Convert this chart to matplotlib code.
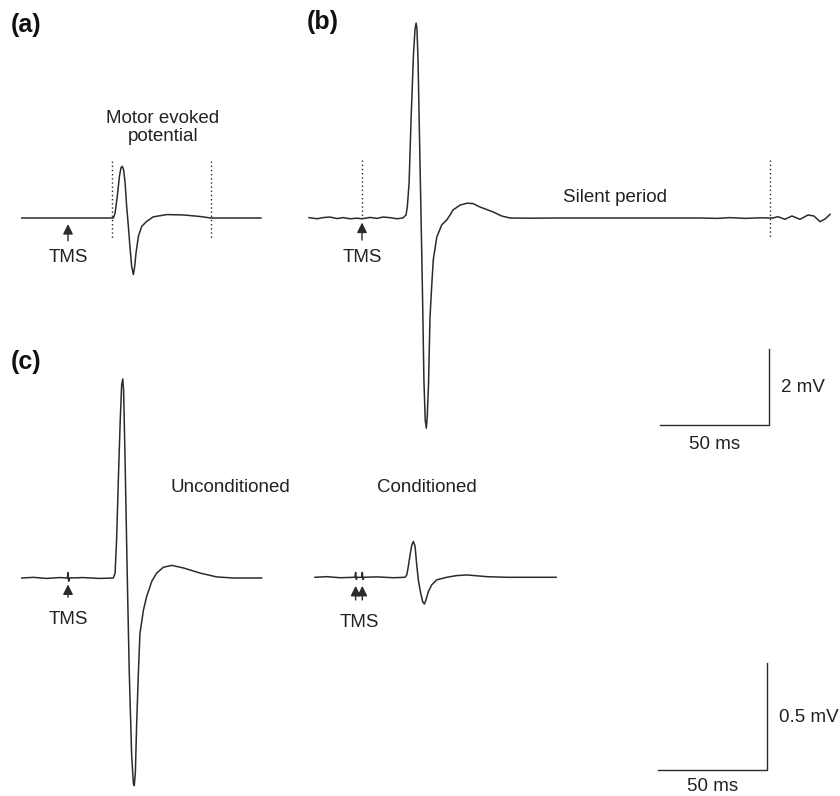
import matplotlib
matplotlib.use("Agg")
import matplotlib.pyplot as plt

plt.rcParams['font.family'] = ['Liberation Sans', 'DejaVu Sans']

W, H = 840, 796
PX_PER_MS = 2.18          # 50 ms scale bar = 109 px
PX_PER_MV_AB = 38.0       # 2 mV scale bar = 76 px
PX_PER_MV_C = 214.0       # 0.5 mV scale bar = 107 px

# ---- traces (time in ms relative to TMS, amplitude in mV) ----
a_t = [-21.2, 20.8, 21.6, 22.6, 23.6, 24.3, 24.9, 25.5, 26.2, 26.9, 27.7, 28.4,
       29.2, 30.0, 30.6, 31.2, 32.3, 33.8, 36.1, 39.1, 45.3, 52.9, 60.6, 65.4, 88.5]
a_v = [0, 0, 0.13, 0.57, 1.10, 1.32, 1.36, 1.27, 0.92, 0.31, -0.22, -0.75,
       -1.27, -1.49, -1.27, -0.92, -0.48, -0.22, -0.09, 0.03, 0.09, 0.08, 0.04, 0, 0]

b_t = [-24.3, -20.6, -17.9, -14.7, -11.5, -8.7, -5.5, -2.3, 0, 3.7, 6.9, 9.6, 12.8,
       16.1, 18.7, 20.2, 20.8, 21.6, 22.5, 23.6, 24.3, 24.8, 25.2, 25.7, 26.4, 27.1,
       27.8, 28.4, 29.0, 29.5, 29.9, 30.5, 31.2, 32.0, 32.7, 34.3, 36.6, 38.9, 40.4,
       41.7, 45.0, 48.2, 50.9, 54.1, 60.1, 64.2, 67.9, 77.1, 90.8, 109.2, 132.1, 155.0,
       162.8, 168.8, 175.7, 182.6, 187.2, 188.5, 190.8, 194.0, 197.2, 200.9, 204.6,
       207.3, 210.1, 212.4, 214.7]
b_v = [0.01, -0.02, 0.01, 0.025, -0.015, 0.01, -0.02, -0.005, -0.02, 0.015, -0.01, 0.025, 0.01,
       -0.02, 0.0, 0.08, 0.30, 0.92, 2.58, 4.29, 4.95, 5.13, 5.00, 4.16, 2.05, 0.0,
       -2.16, -4.26, -5.32, -5.53, -5.26, -4.39, -2.61, -1.76, -1.10, -0.50, -0.18, -0.05, 0.08,
       0.21, 0.34, 0.39, 0.38, 0.29, 0.16, 0.05, 0.0, -0.005, 0, 0, 0, 0,
       -0.01, 0.01, -0.01, 0.005, 0, 0, 0.034, -0.034, 0.053, -0.034, 0.079,
       0.053, -0.097, -0.026, 0.097]

unc_t = [-21.2, -15.8, -9.9, -3.8, -0.3, 0, 0.3, 0.8, 6.9, 14.5, 20.8, 21.6, 22.3, 23.1,
         23.9, 24.6, 25.1, 25.5, 26.3, 27.2, 28.1, 29.2, 30.0, 30.4, 30.9, 31.5, 32.3,
         33.0, 34.6, 36.1, 38.4, 40.7, 43.7, 47.6, 52.9, 60.6, 68.2, 75.8, 88.8]
unc_v = [0, 0.003, -0.002, 0.002, 0, 0.025, -0.015, 0, 0.002, -0.002, 0, 0.023, 0.18, 0.46,
         0.72, 0.90, 0.93, 0.88, 0.49, 0, -0.44, -0.83, -0.96, -0.97, -0.91, -0.68, -0.44,
         -0.26, -0.15, -0.086, -0.016, 0.023, 0.05, 0.059, 0.047, 0.023, 0.005, 0, 0]

con_t = [-21.7, -16.3, -10.2, -4.1, -3.4, -3.06, -2.75, -2.3, -0.3, 0, 0.3, 0.76, 6.6,
         14.2, 19.6, 20.4, 21.1, 21.9, 22.7, 23.4, 24.2, 24.9, 25.7, 26.8, 27.7, 28.5,
         29.2, 30.3, 31.8, 34.1, 38.7, 43.3, 47.9, 57.1, 66.2, 88.9]
con_v = [0, 0.003, -0.002, 0, 0, 0.023, -0.01, 0, 0, 0.023, -0.01, 0, 0.002,
         -0.002, 0, 0.011, 0.05, 0.104, 0.151, 0.167, 0.146, 0.065, -0.012, -0.075, -0.114, -0.125,
         -0.106, -0.067, -0.036, -0.012, 0, 0.008, 0.011, 0.003, 0, 0]

a_window = [20.3, 65.4]      # MEP window markers (ms)
b_window = [0, 187.2]        # silent period markers (ms)
con_tms = [-3.06, 0]         # paired pulses

# ---- placement (pixel origin of each trace: TMS time, baseline) ----
A_ORIGIN = (68, 218)
B_ORIGIN = (362, 218)
UNC_ORIGIN = (68, 578)
CON_ORIGIN = (362.3, 577.3)

LINE = '#2b2b2b'
TXT = '#222222'
FS = 13.5

fig = plt.figure(figsize=(W / 100, H / 100), dpi=100)


def trace_axes(origin, px_per_mv):
    x0, y0 = origin
    ax = fig.add_axes([0, 0, 1, 1])
    ax.set_xlim(-x0 / PX_PER_MS, (W - x0) / PX_PER_MS)
    ax.set_ylim(-(H - y0) / px_per_mv, y0 / px_per_mv)
    ax.set_facecolor('none')
    ax.axis('off')
    return ax


def tms_arrow(ax, t, y_tip, y_tail):
    ax.annotate('', xy=(t, y_tip), xytext=(t, y_tail),
                arrowprops=dict(arrowstyle='-|>,head_length=0.6,head_width=0.3',
                                color=LINE, lw=1.0, shrinkA=0, shrinkB=0))


def dotted(ax, t, v0, v1):
    ax.plot([t, t], [v0, v1], color=LINE, lw=1.0, linestyle=(0, (1, 2)))


# (a)
ax_a = trace_axes(A_ORIGIN, PX_PER_MV_AB)
ax_a.plot(a_t, a_v, color=LINE, lw=1.1)
for t in a_window:
    dotted(ax_a, t, 1.5, -0.53)
tms_arrow(ax_a, 0, -0.16, -0.6)
ax_a.text(0, -1.05, 'TMS', ha='center', va='center', fontsize=FS, color=TXT)
ax_a.text(43.6, 2.39, 'Motor evoked\npotential', ha='center', va='center',
          fontsize=FS, linespacing=1.05, color=TXT)

# (b)
ax_b = trace_axes(B_ORIGIN, PX_PER_MV_AB)
ax_b.plot(b_t, b_v, color=LINE, lw=1.1)
dotted(ax_b, b_window[0], 1.53, 0.0)
dotted(ax_b, b_window[1], 1.53, -0.53)
tms_arrow(ax_b, 0, -0.12, -0.58)
ax_b.text(0, -1.05, 'TMS', ha='center', va='center', fontsize=FS, color=TXT)
ax_b.text(116, 0.53, 'Silent period', ha='center', va='center', fontsize=FS, color=TXT)
# scale bar 50 ms / 2 mV
ax_b.plot([136.7, 186.7, 186.7], [-5.45, -5.45, -3.45], color=LINE, lw=1.0)
ax_b.text(192, -4.45, '2 mV', ha='left', va='center', fontsize=FS, color=TXT)
ax_b.text(161.7, -5.95, '50 ms', ha='center', va='center', fontsize=FS, color=TXT)

# (c) unconditioned
ax_u = trace_axes(UNC_ORIGIN, PX_PER_MV_C)
ax_u.plot(unc_t, unc_v, color=LINE, lw=1.1)
tms_arrow(ax_u, 0, -0.03, -0.09)
ax_u.text(0, -0.196, 'TMS', ha='center', va='center', fontsize=FS, color=TXT)
ax_u.text(74.3, 0.425, 'Unconditioned', ha='center', va='center', fontsize=FS, color=TXT)
# scale bar 50 ms / 0.5 mV
ax_u.plot([270.6, 320.6, 320.6], [-0.897, -0.897, -0.397], color=LINE, lw=1.0)
ax_u.text(326, -0.65, '0.5 mV', ha='left', va='center', fontsize=FS, color=TXT)
ax_u.text(295.6, -0.976, '50 ms', ha='center', va='center', fontsize=FS, color=TXT)

# (c) conditioned
ax_c = trace_axes(CON_ORIGIN, PX_PER_MV_C)
ax_c.plot(con_t, con_v, color=LINE, lw=1.1)
for t in con_tms:
    tms_arrow(ax_c, t, -0.04, -0.106)
ax_c.text(-1.5, -0.21, 'TMS', ha='center', va='center', fontsize=FS, color=TXT)
ax_c.text(29.7, 0.418, 'Conditioned', ha='center', va='center', fontsize=FS, color=TXT)

# panel letters
for label, (px, py) in {'(a)': (26, 25), '(b)': (323, 22), '(c)': (26, 362)}.items():
    fig.text(px / W, 1 - py / H, label, ha='center', va='center',
             fontsize=18, fontweight='bold', color='#111111')

fig.savefig('out.png', dpi=100)
